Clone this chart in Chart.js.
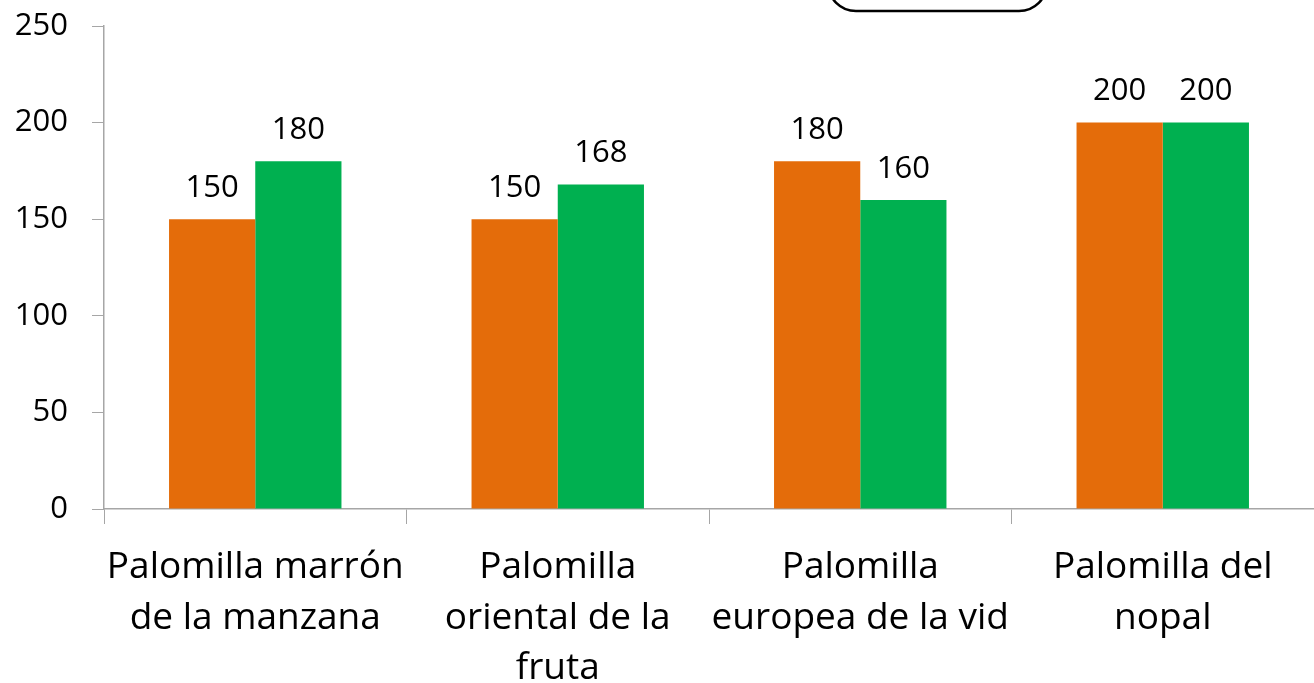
<!DOCTYPE html>
<html>
<head>
<meta charset="utf-8">
<script src="https://cdn.jsdelivr.net/npm/chart.js@4/dist/chart.umd.min.js"></script>
<style>
  html, body { margin: 0; padding: 0; background: #fff; }
  #wrap { width: 1314px; height: 683px; }
</style>
</head>
<body>
<div id="wrap"><canvas id="barChart" width="1314" height="683"></canvas></div>
<script>
// data
const categories = [
    ['Palomilla marrón', 'de la manzana'],
    ['Palomilla', 'oriental de la', 'fruta'],
    ['Palomilla', 'europea de la vid'],
    ['Palomilla del', 'nopal']
];
const serie1 = [150, 150, 180, 200];
const serie2 = [180, 168, 160, 200];
const yTicks = [0, 50, 100, 150, 200, 250];

const FONT = '"Open Sans", sans-serif';

// numbers above each bar
const barLabels = {
    id: 'barLabels',
    afterDatasetsDraw(chart) {
        const c = chart.ctx;
        c.save();
        c.font = '31px ' + FONT;
        c.fillStyle = '#000';
        c.textAlign = 'center';
        c.textBaseline = 'middle';
        chart.data.datasets.forEach((ds, i) => {
            chart.getDatasetMeta(i).data.forEach((bar, j) => {
                c.fillText(ds.data[j], bar.x, bar.y - 31);
            });
        });
        c.restore();
    }
};

// rounded box cut off at the top edge
const topBox = {
    id: 'topBox',
    afterDraw(chart) {
        const c = chart.ctx;
        c.save();
        c.lineWidth = 2.5;
        c.strokeStyle = '#000';
        c.beginPath();
        c.roundRect(828, -50, 219, 61, 28);
        c.stroke();
        c.restore();
    }
};

const ctx = document.getElementById('barChart').getContext('2d');
new Chart(ctx, {
    type: 'bar',
    data: {
        labels: categories,
        datasets: [{
            label: 'Serie 1',
            data: serie1,
            backgroundColor: '#E46C0A',
            categoryPercentage: 0.57,
            barPercentage: 1
        }, {
            label: 'Serie 2',
            data: serie2,
            backgroundColor: '#00B050',
            categoryPercentage: 0.57,
            barPercentage: 1
        }]
    },
    options: {
        responsive: false,
        animation: false,
        layout: { padding: { top: 26, right: 0, left: 0, bottom: 0 } },
        plugins: {
            legend: { display: false },
            tooltip: { enabled: false }
        },
        scales: {
            x: {
                grid: { offset: true, drawOnChartArea: false, tickLength: 15, color: '#A6A6A6' },
                border: { color: '#A6A6A6', width: 1.5 },
                ticks: { color: '#000', font: { family: FONT, size: 37, lineHeight: 1.37 }, padding: 18, maxRotation: 0, autoSkip: false },
                afterFit(scale) { scale.height = 174; }
            },
            y: {
                min: 0,
                max: 250,
                afterBuildTicks(scale) { scale.ticks = yTicks.map(v => ({ value: v })); },
                grid: { drawOnChartArea: false, tickLength: 12, color: '#A6A6A6' },
                border: { color: '#A6A6A6', width: 1.5 },
                ticks: { color: '#000', font: { family: FONT, size: 31 }, padding: 24 },
                afterFit(scale) {
                    scale.width = 104;
                    scale.paddingTop = 0;
                    scale.paddingBottom = 0;
                }
            }
        }
    },
    plugins: [barLabels, topBox]
});
</script>
</body>
</html>
